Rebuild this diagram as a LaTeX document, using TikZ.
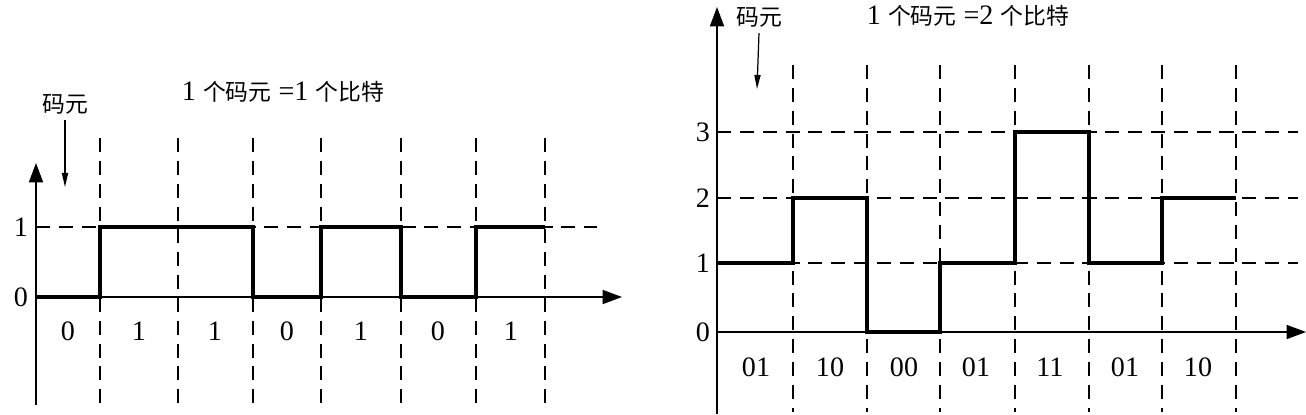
\documentclass[tikz,border=0pt]{standalone}
\usepackage{fontspec}
\setmainfont{Liberation Serif}
\newfontfamily\cjkfont{Noto Sans CJK SC}
\newcommand{\zh}[1]{{\fontsize{13}{15}\selectfont\cjkfont #1}}
\usetikzlibrary{arrows.meta}
\tikzset{
  axis/.style={line width=0.8pt,-{Triangle[length=11pt,width=8pt]}},
  grid line/.style={line width=0.7pt,dash pattern=on 8pt off 5pt},
  wave/.style={line width=1.8pt,line join=miter},
  digit/.style={font=\fontsize{16}{18}\selectfont,inner sep=1pt},
  pointer/.style={line width=0.7pt,-{Triangle[length=8pt,width=3.5pt]}}
}

\begin{document}
\begin{tikzpicture}[x=0.02cm,y=-0.02cm]
  \useasboundingbox (0,0) rectangle (1306,414);

  % left: 1 symbol = 1 bit
  \coordinate (lo) at (36,297);
  \foreach \x in {100,178,253,321,401,476,545}
    \draw[grid line] (\x,138) -- (\x,405);
  \draw[grid line] (36,227) -- (597,227);
  \draw[axis] (36,405) -- (36,163);
  \draw[axis] (lo) -- (622,297);
  \draw[wave] (lo) -- (100,297) -- (100,227) -- (253,227) -- (253,297)
    -- (321,297) -- (321,227) -- (401,227) -- (401,297) -- (476,297)
    -- (476,227) -- (545,227);
  \node[digit,anchor=east] (l1) at (30,227) {1};
  \node[digit,anchor=east] (l0) at (30,297) {0};
  \foreach \x/\b in {68/0,139/1,215/1,287/0,361/1,438/0,511/1}
    \node[digit] at (\x,331) {\b};
  \node[digit] (ltitle) at (283,92) {1 \zh{个码元} =1 \zh{个比特}};
  \node (lsym) at (65,104) {\zh{码元}};
  \coordinate (lsymtip) at (65,187);
  \draw[pointer] (lsym.south) -- (lsymtip);

  % right: 1 symbol = 2 bits
  \coordinate (ro) at (717,332);
  \foreach \x in {793,867,940,1015,1089,1162,1236}
    \draw[grid line] (\x,65) -- (\x,412);
  \foreach \y in {132,198,263}
    \draw[grid line] (717,\y) -- (1298,\y);
  \draw[axis] (717,414) -- (717,7);
  \draw[axis] (ro) -- (1306,332);
  \draw[wave] (717,263) -- (793,263) -- (793,198) -- (867,198) -- (867,332)
    -- (940,332) -- (940,263) -- (1015,263) -- (1015,132) -- (1089,132)
    -- (1089,263) -- (1162,263) -- (1162,198) -- (1236,198);
  \foreach \y/\v in {132/3,198/2,263/1,332/0}
    \node[digit,anchor=east] at (712,\y) {\v};
  \foreach \x/\b in {756/01,830/10,904/00,976/01,1050/11,1125/01,1198/10}
    \node[digit] at (\x,367) {\b};
  \node[digit] (rtitle) at (968,16) {1 \zh{个码元} =2 \zh{个比特}};
  \node (rsym) at (759,17) {\zh{码元}};
  \coordinate (rsymtip) at (757,89);
  \draw[pointer] (rsym.south) -- (rsymtip);
\end{tikzpicture}
\end{document}
